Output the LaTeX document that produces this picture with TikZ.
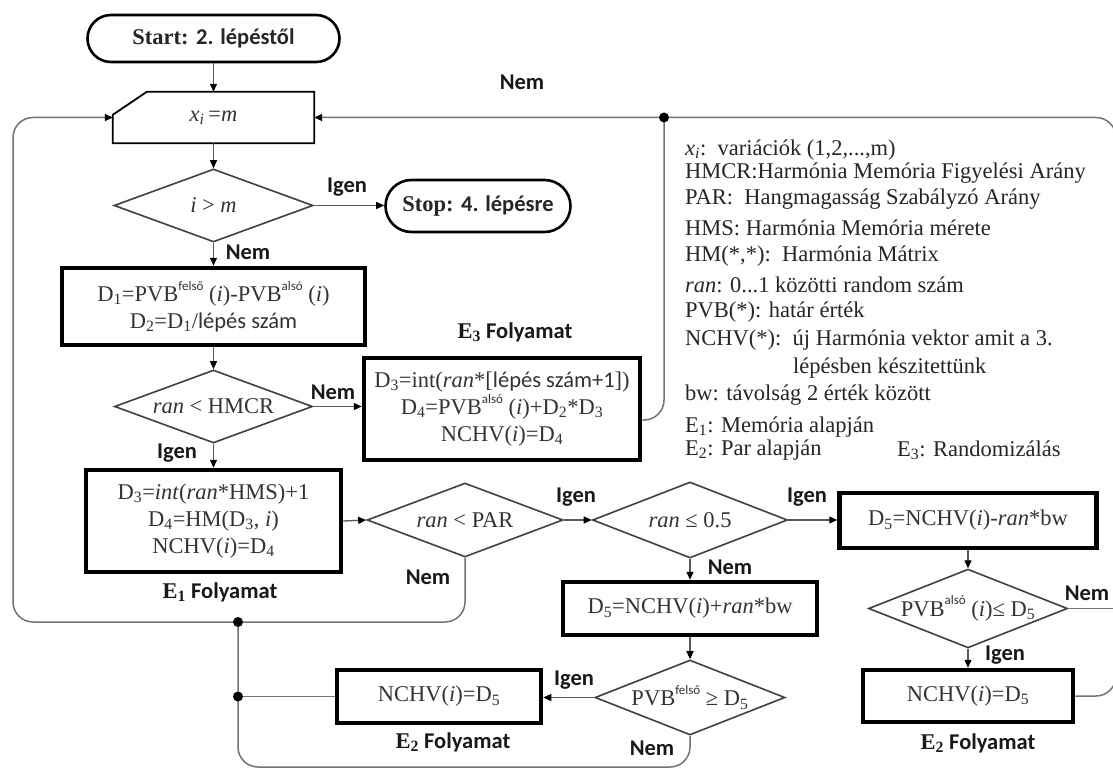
\documentclass[tikz,border=0pt]{standalone}
\usepackage{fontspec}
\setmainfont{Liberation Serif}
\newfontfamily\calfont{Carlito}
\usetikzlibrary{shapes.geometric,shapes.misc,arrows.meta,calc}

\newcommand\dsub[1]{\textsubscript{#1}}
\newcommand\hiword[1]{\raisebox{0.5em}{\calfont\fontsize{13}{13}\selectfont #1}}

\begin{document}
\begin{tikzpicture}[x=1pt,y=-1pt,
  every node/.style={inner sep=0pt},
  formula/.style={font=\fontsize{22.5}{27}\selectfont, text=black!80, align=center},
  thickbox/.style={draw=black, line width=4.5pt, rectangle, formula},
  decision/.style={draw=black!75, line width=1.6pt, diamond, aspect=2.5, formula},
  terminal/.style={draw=black, line width=2.6pt, rounded rectangle, font=\fontsize{22.5}{26}\selectfont\bfseries, text=black!85},
  lbl/.style={font=\calfont\bfseries\fontsize{22.5}{26}\selectfont, text=black!90},
  tip/.style={-{Triangle[length=8pt,width=7pt,color=black]}},
  flow/.style={draw=black!65, line width=1.3pt, tip},
  loop/.style={draw=black!55, line width=1.5pt, rounded corners=20pt},
  junction/.style={circle, fill=black, minimum size=10pt},
  legend/.style={anchor=west, font=\fontsize{22.5}{26}\selectfont, text=black!85},
]
\fill[white] (0,0) rectangle (1113,770);
\useasboundingbox (0,0) rectangle (1113,770);

% ---------- main column ----------
\node[terminal, minimum width=252pt, minimum height=47pt] (start) at (213.5,38.5)
  {Start: {\calfont 2. lépéstől}};
\node[formula, minimum width=201pt, minimum height=51pt] (xi) at (213.5,117.5)
  {\textit{x\dsub{i}}\,=\textit{m}};
\draw[line width=1.8pt] (xi.south west) -- (xi.south east) -- (xi.north east)
  -- ([xshift=34pt]xi.north west) -- ([yshift=-23pt]xi.north west) -- cycle;
\node[decision, minimum width=199pt, minimum height=73pt] (dA) at (213.5,205.5)
  {\textit{i} > \textit{m}};
\node[terminal, minimum width=185pt, minimum height=52pt] (stop) at (478,206)
  {Stop: {\calfont 4. lépésre}};
\node[thickbox, minimum width=303pt, minimum height=77pt] (b1) at (213.5,306.5)
  {D\dsub{1}=PVB\hiword{felső} (\textit{i})-PVB\hiword{alsó} (\textit{i})\\
   D\dsub{2}=D\dsub{1}/{\calfont lépés szám}};
\node[decision, minimum width=198pt, minimum height=73pt] (dB) at (213.5,406.5)
  {\textit{ran} < HMCR};
\node[thickbox, minimum width=276pt, minimum height=102pt] (e3) at (502,409)
  {D\dsub{3}=int(\textit{ran}*[{\calfont lépés szám+1}])\\
   D\dsub{4}=PVB\hiword{alsó} (\textit{i})+D\dsub{2}*D\dsub{3}\\
   NCHV(\textit{i})=D\dsub{4}};
\node[thickbox, minimum width=255pt, minimum height=102pt] (e1) at (213.5,521)
  {D\dsub{3}=\textit{int}(\textit{ran}*HMS)+1\\
   D\dsub{4}=HM(D\dsub{3}, \textit{i})\\
   NCHV(\textit{i})=D\dsub{4}};

% ---------- PAR branch ----------
\node[decision, minimum width=196pt, minimum height=74pt] (dC) at (465,520)
  {\textit{ran} < PAR};
\node[decision, minimum width=195pt, minimum height=76pt] (dD) at (690,520)
  {\textit{ran} ≤ 0.5};
\node[thickbox, minimum width=257pt, minimum height=55pt] (b5) at (968,520.5)
  {D\dsub{5}=NCHV(\textit{i})-\textit{ran}*bw};
\node[thickbox, minimum width=254pt, minimum height=53pt] (b6) at (690,608.5)
  {D\dsub{5}=NCHV(\textit{i})+\textit{ran}*bw};
\node[decision, minimum width=190pt, minimum height=75pt] (dE) at (690,697.5)
  {PVB\hiword{felső} ≥ D\dsub{5}};
\node[decision, minimum width=199pt, minimum height=73pt] (dF) at (968,608.5)
  {PVB\hiword{alsó} (\textit{i})≤ D\dsub{5}};
\node[thickbox, minimum width=204pt, minimum height=53pt] (e2a) at (439,696.5)
  {NCHV(\textit{i})=D\dsub{5}};
\node[thickbox, minimum width=210pt, minimum height=52pt] (e2b) at (968,696)
  {NCHV(\textit{i})=D\dsub{5}};

% ---------- straight connectors ----------
\draw[flow] (start.south) -- (xi.north);
\draw[flow] (xi.south) -- (dA.north);
\draw[flow] (dA.east) -- (dA.east -| stop.west);
\draw[flow] (dA.south) -- (b1.north);
\draw[flow] (b1.south) -- (dB.north);
\draw[flow] (dB.east) -- (dB.east -| e3.west);
\draw[flow] (dB.south) -- (e1.north);
\draw[flow] (e1.east) -- (dC.west);
\draw[flow] (dC.east) -- (dD.west);
\draw[flow] (dD.east) -- (dD.east -| b5.west);
\draw[flow] (dD.south) -- (b6.north);
\draw[flow] (b6.south) -- (dE.north);
\draw[flow] (dE.west) -- (dE.west -| e2a.east);
\draw[flow] (b5.south) -- (dF.north);
\draw[flow] (dF.south) -- (e2b.north);

% ---------- return loops ----------
\coordinate (cornerBL) at (13,622);
\coordinate (j1) at (238,622);
\coordinate (cornerB) at (238,767);
\coordinate (j3) at (664,117.5);
\coordinate (cornerTR) at (1116,117.5);
\draw[loop, tip] (dC.south) |- (cornerBL) |- (xi.west);
\draw[loop] (dE.south) |- (cornerB) -- (j1);
\coordinate (j2) at (j1 |- e2a.west);
\draw[loop] (e2a.west) -- (j2);
\draw[loop] ([yshift=-11pt]e3.east) -| (j3);
\draw[loop, tip] (e2b.east) -| (cornerTR) -- (xi.east);
\draw[loop] (dF.east) -- (dF.east -| cornerTR);
\node[junction] at (j1) {};
\node[junction] at (j2) {};
\node[junction] at (j3) {};

% ---------- branch labels ----------
\node[lbl] (l1) at (522,82) {Nem};
\node[lbl] (l2) at (347,187) {Igen};
\node[lbl] (l3) at (248,252) {Nem};
\node[lbl] (l4) at (333,392) {Nem};
\node[lbl] (l5) at (177,453) {Igen};
\node[lbl] (l6) at (428,577) {Nem};
\node[lbl] (l7) at (576,497) {Igen};
\node[lbl] (l8) at (807,497) {Igen};
\node[lbl] (l9) at (730,567) {Nem};
\node[lbl] (l10) at (574,680) {Igen};
\node[lbl] (l11) at (652,748) {Nem};
\node[lbl] (l12) at (1087,593) {Nem};
\node[lbl] (l13) at (1005,655) {Igen};
\node[lbl] (f3) at (515,332) {{\rmfamily E\dsub{3}} Folyamat};
\node[lbl] (f1) at (220,592) {{\rmfamily E\dsub{1}} Folyamat};
\node[lbl] (f2a) at (453,742) {{\rmfamily E\dsub{2}} Folyamat};
\node[lbl] (f2b) at (978,743) {{\rmfamily E\dsub{2}} Folyamat};

% ---------- legend ----------
\node[legend] (g1) at (685,150) {\textit{x\dsub{i}}:\ \ variációk (1,2,...,m)};
\node[legend] (g2) at (685,173) {HMCR:Harmónia Memória Figyelési Arány};
\node[legend] (g3) at (685,199) {PAR:\ \ Hangmagasság Szabályzó Arány};
\node[legend] (g4) at (685,228) {HMS: Harmónia Memória mérete};
\node[legend] (g5) at (685,256) {HM(*,*):\ \ Harmónia Mátrix};
\node[legend] (g6) at (685,285) {\textit{ran}: 0...1 közötti random szám};
\node[legend] (g7) at (685,312) {PVB(*): határ érték};
\node[legend] (g8) at (685,340) {NCHV(*):\ \ új Harmónia vektor amit a 3.};
\node[legend] (g9) at (793,368) {lépésben készitettünk};
\node[legend] (g10) at (685,395) {bw: távolság 2 érték között};
\node[legend] (g11) at (685,427) {E\dsub{1}: Memória alapján};
\node[legend] (g12) at (685,450) {E\dsub{2}: Par alapján};
\node[legend] (g13) at (897,450) {E\dsub{3}: Randomizálás};
\end{tikzpicture}
\end{document}
